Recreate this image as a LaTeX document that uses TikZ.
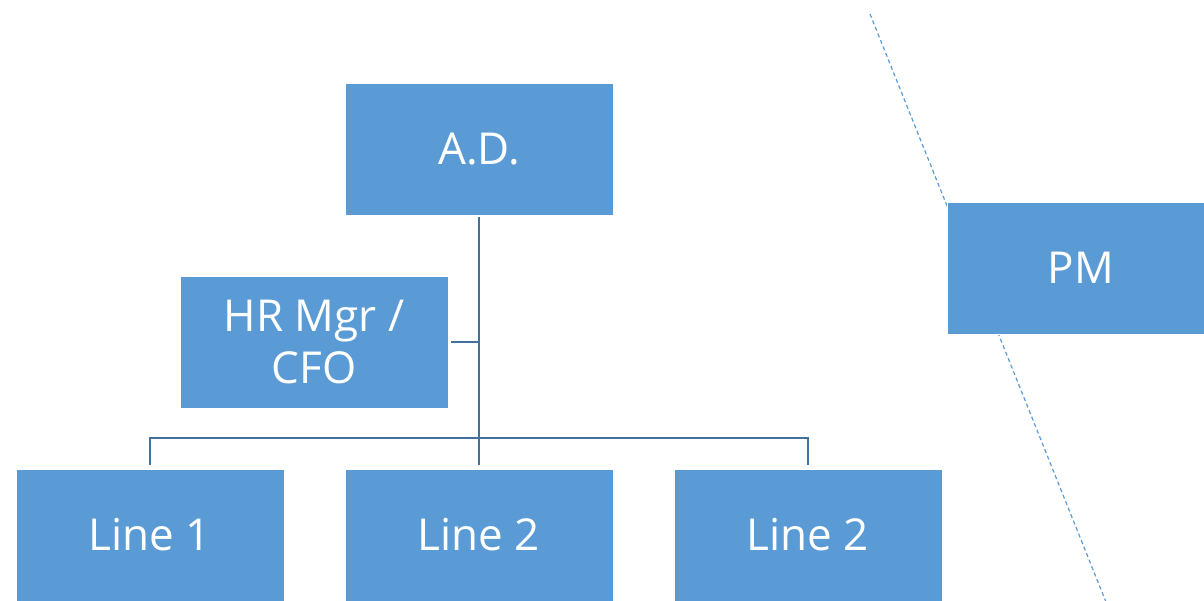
\documentclass[tikz,border=0pt]{standalone}
\usepackage{fontspec}
\setmainfont{Open Sans}
\definecolor{boxblue}{HTML}{5B9BD5}
\definecolor{linkblue}{HTML}{41719C}
\begin{document}
\begin{tikzpicture}[x=1pt,y=-1pt,
  orgbox/.style={fill=boxblue,draw=white,line width=0.8pt,minimum width=268pt,minimum height=132pt,
    inner sep=0pt,text=white,font=\fontsize{44}{52}\selectfont,align=center},
  link/.style={draw=linkblue,line width=2.8pt},
  dashlink/.style={draw=boxblue,line width=1.2pt,dash pattern=on 4pt off 3pt}]
\useasboundingbox (0,0) rectangle (1204,600);
\clip (0,0) rectangle (1204,600);
\fill[white] (0,0) rectangle (1204,600);
\coordinate (dtop) at (870,14);
\coordinate (dbot) at (1106,602);
\draw[dashlink] (dtop) -- (dbot);
\node[orgbox] (ad) at (479,149) {A.D.};
\node[orgbox] (hr) at (314,342) {HR Mgr /\\CFO};
\node[orgbox] (l1) at (150,535) {Line 1};
\node[orgbox] (l2) at (479,535) {Line 2};
\node[orgbox] (l3) at (808,535) {Line 2};
\node[orgbox] (pm) at (1081,268) {PM};
\coordinate (hrj) at (479,342);
\coordinate (bus) at (479,438);
\draw[link] ([yshift=-2pt]ad.south) -- ([yshift=4pt]l2.north);
\draw[link] ([xshift=3pt]hr.east) -- (hrj);
\draw[link] (bus) -| ([yshift=4pt]l1.north);
\draw[link] (bus) -| ([yshift=4pt]l3.north);
\end{tikzpicture}
\end{document}
